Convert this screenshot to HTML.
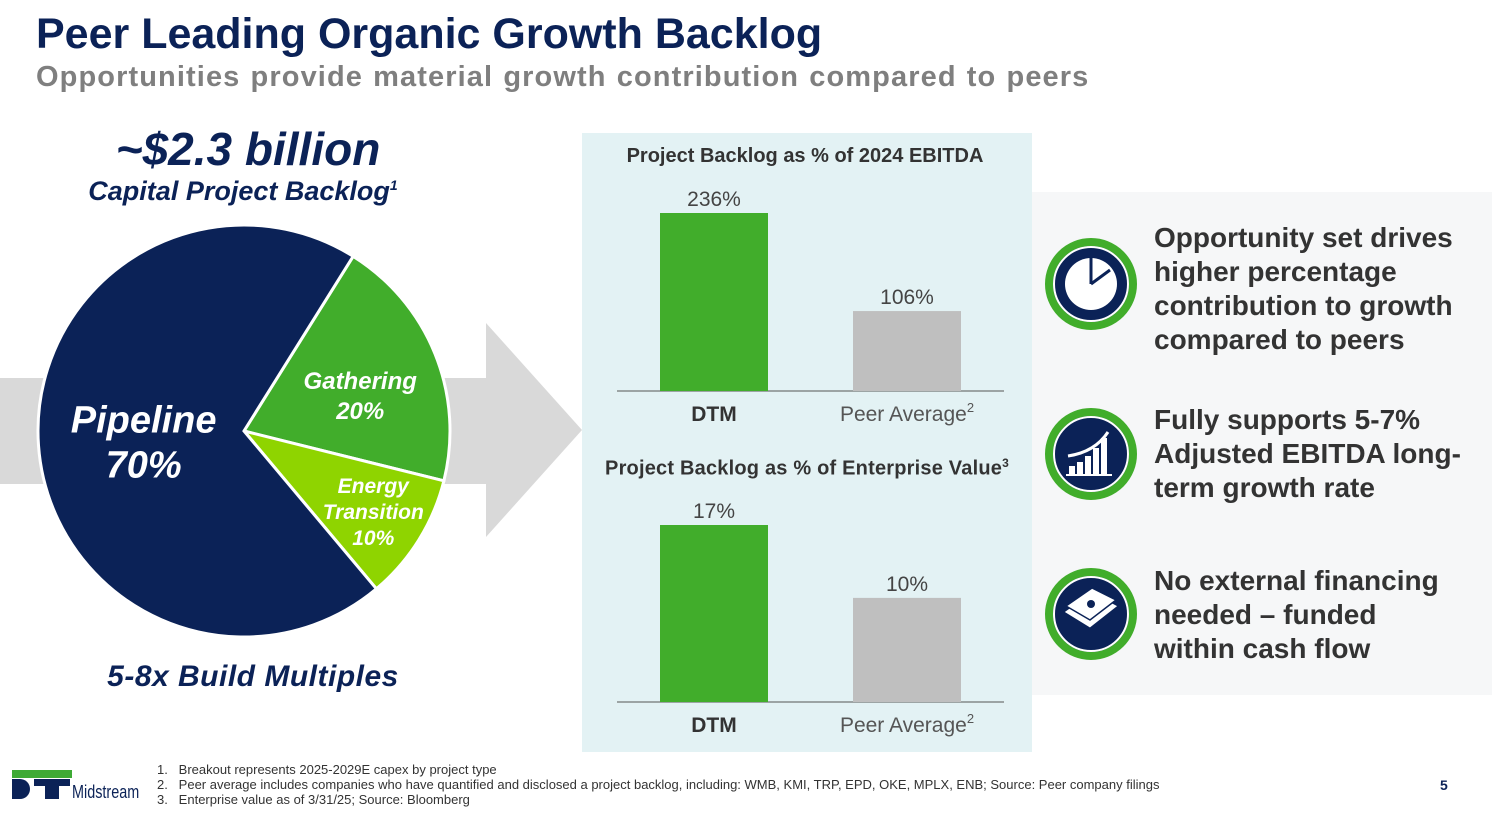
<!DOCTYPE html>
<html><head><meta charset="utf-8"><style>
body{margin:0;width:1492px;height:840px;background:#fff;font-family:"Liberation Sans",sans-serif;position:relative;overflow:hidden}
.a{position:absolute;margin:0}
</style></head><body>
<h1 class="a" style="left:36px;top:10px;font-size:43px;color:#0b2257;font-weight:bold">Peer Leading Organic Growth Backlog</h1>
<h2 class="a" style="left:36px;top:61px;font-size:29px;color:#7f7f7f;font-weight:bold;letter-spacing:1.1px;word-spacing:1px">Opportunities provide material growth contribution compared to peers</h2>
<div class="a" style="left:1032px;top:192px;width:460px;height:503px;background:#f6f7f8"></div>
<div class="a" style="left:582px;top:133px;width:450px;height:619px;background:#e3f2f4"></div>
<svg class="a" style="left:0;top:0" width="1492" height="840" id="svg">
<polygon points="0,378 486,378 486,323 582,430 486,537 486,484 0,484" fill="#d9d9d9"/>
</svg>
<div class="a" style="left:0;width:496px;top:122px;text-align:center;font-size:46px;font-weight:bold;font-style:italic;color:#0b2257">~$2.3 billion</div>
<div class="a" style="left:0;width:486px;top:176px;text-align:center;font-size:27px;font-weight:bold;font-style:italic;color:#0b2257">Capital Project Backlog<sup style="font-size:14px">1</sup></div>
<div class="a" style="left:0;width:506px;top:660px;text-align:center;font-size:30px;font-weight:bold;font-style:italic;color:#0b2257;letter-spacing:0.5px">5-8x Build Multiples</div>
<div class="a" style="left:582px;width:446px;top:145px;text-align:center;font-size:20px;font-weight:bold;color:#333">Project Backlog as % of 2024 EBITDA</div>
<div class="a" style="left:582px;width:450px;top:456px;text-align:center;font-size:20px;font-weight:bold;color:#333;letter-spacing:0.2px">Project Backlog as % of Enterprise Value<sup style="font-size:12px">3</sup></div>
<div class="a" style="left:1154px;top:221px;font-size:28px;font-weight:bold;color:#333;line-height:34px">Opportunity set drives<br>higher percentage<br>contribution to growth<br>compared to peers</div>
<div class="a" style="left:1154px;top:403px;font-size:28px;font-weight:bold;color:#333;line-height:34px">Fully supports 5-7%<br>Adjusted EBITDA long-<br>term growth rate</div>
<div class="a" style="left:1154px;top:564px;font-size:28px;font-weight:bold;color:#333;line-height:34px">No external financing<br>needed – funded<br>within cash flow</div>
<div class="a" style="left:157px;top:762px;font-size:13px;color:#333;line-height:15px">1.&nbsp;&nbsp;&nbsp;Breakout represents 2025-2029E capex by project type<br>2.&nbsp;&nbsp;&nbsp;Peer average includes companies who have quantified and disclosed a project backlog, including: WMB, KMI, TRP, EPD, OKE, MPLX, ENB; Source: Peer company filings<br>3.&nbsp;&nbsp;&nbsp;Enterprise value as of 3/31/25; Source: Bloomberg</div>
<div class="a" style="left:1440px;top:777px;font-size:14px;font-weight:bold;color:#0b2257">5</div>
<div class="a" style="left:12px;top:770px;width:125px;height:32px">
<div class="a" style="left:0;top:0;width:60px;height:8px;background:#3eaa35"></div>
<div class="a" style="left:0;top:9px;width:18px;height:20px;background:#0b2257;border-radius:0 10px 10px 0"></div>
<div class="a" style="left:22px;top:9px;width:36px;height:7px;background:#0b2257"></div>
<div class="a" style="left:33px;top:9px;width:14px;height:20px;background:#0b2257"></div>
<div class="a" style="left:60px;top:12px;font-size:18px;color:#0b2257;transform:scaleX(0.8);transform-origin:left">Midstream</div>
</div>
<script>
const pieLabels=["Pipeline","Gathering","Energy Transition"];
const pieValues=[70,20,10];
const pieColors=["#0b2257","#41ad2b","#8fd400"];
const barCats=["DTM","Peer Average"];
const ebitdaVals=[236,106];
const evVals=[17,10];
const barColors=["#41ad2b","#bfbfbf"];
const NS="http://www.w3.org/2000/svg";
const svg=document.getElementById('svg');
function mk(t,a){const e=document.createElementNS(NS,t);for(const k in a)e.setAttribute(k,a[k]);svg.appendChild(e);return e;}
const cx=244,cy=431,r=206;
const order=[1,2,0];
const total=pieValues.reduce((a,b)=>a+b,0);
let ang=32;
const pt=(d,rr)=>[cx+rr*Math.sin(d*Math.PI/180),cy-rr*Math.cos(d*Math.PI/180)];
const labelHtml=[["Pipeline","70%"],["Gathering","20%"],["Energy","Transition","10%"]];
const labelR=[0.49,0.59,0.74];
const labelOff=[-2,5,0];
const labelFs=[38,24,21];
const labelLh=[45,30,26];
order.forEach(i=>{
  const sweep=pieValues[i]/total*360;
  const [x1,y1]=pt(ang,r),[x2,y2]=pt(ang+sweep,r);
  const p=mk('path',{d:`M${cx},${cy} L${x1},${y1} A${r},${r} 0 ${sweep>180?1:0} 1 ${x2},${y2} Z`,fill:pieColors[i],stroke:'#fff','stroke-width':3});
  
  
  const mid=ang+sweep/2+labelOff[i];
  const [lx,ly]=pt(mid,r*labelR[i]);
  const fs=labelFs[i];
  const lines=labelHtml[i];
  const lh=labelLh[i];
  const t=mk('text',{x:lx,y:ly-(lines.length-1)*lh/2+fs*0.35,fill:'#fff','font-size':fs,'font-weight':'bold','font-style':'italic','text-anchor':'middle','font-family':'Liberation Sans'});
  
  
  lines.forEach((s,k)=>{const ts=document.createElementNS(NS,'tspan');ts.setAttribute('x',lx);ts.setAttribute('dy',k?lh:0);ts.textContent=s;t.appendChild(ts);});
  ang+=sweep;
});
function bars(vals,base,scale,name){
  const xs=[714,907];
  const ax=mk('line',{x1:617,x2:1004,y1:base,y2:base,stroke:'#555','stroke-width':1});
  
  
  vals.forEach((v,i)=>{
    const h=v*scale;
    const b=mk('rect',{x:xs[i]-54,y:base-h,width:108,height:h,fill:barColors[i]});
    
    
    const t=mk('text',{x:xs[i],y:base-h-7,'text-anchor':'middle','font-size':21,fill:'#444','font-family':'Liberation Sans'});
    t.textContent=v+'%';
    
    
    const c=mk('text',{x:xs[i],y:base+30,'text-anchor':'middle','font-size':21,fill:i?'#555':'#333','font-weight':i?'normal':'bold','font-family':'Liberation Sans'});
    c.textContent=barCats[i];
    if(i){const s=document.createElementNS(NS,'tspan');s.setAttribute('font-size',13);s.setAttribute('dy',-9);s.textContent='2';c.appendChild(s);}
    
    
  });
}
bars(ebitdaVals,391,178/236,'ebitda');
bars(evVals,702,177/17,'ev');
const iy=[284,454,614];
iy.forEach((y,k)=>{
  const g=mk('circle',{cx:1091,cy:y,r:42,fill:'#0b2257',stroke:'#41ad2b','stroke-width':8});
  
  
  mk('circle',{cx:1091,cy:y,r:37,fill:'none',stroke:'#fff','stroke-width':2});
});
mk('circle',{cx:1091,cy:284,r:26,fill:'#fff'});
mk('path',{d:'M1091,284 L1091,258 M1091,284 L1110,270',stroke:'#0b2257','stroke-width':3,fill:'none'});
[[1069,466,6,8],[1077,462,6,12],[1085,456,6,18],[1093,448,6,26],[1101,438,6,36]].forEach(a=>mk('rect',{x:a[0],y:a[1],width:a[2],height:a[3],fill:'#fff'}));
mk('line',{x1:1066,x2:1112,y1:475,y2:475,stroke:'#fff','stroke-width':2});
mk('path',{d:'M1068,456 Q1095,452 1108,432',stroke:'#fff','stroke-width':3,fill:'none'});
mk('polygon',{points:'1064,612 1092,592 1118,606 1090,628',fill:'#fff',stroke:'#0b2257','stroke-width':1});
mk('polygon',{points:'1066,606 1092,588 1116,600 1090,620',fill:'#fff',stroke:'#0b2257','stroke-width':1.5});
mk('circle',{cx:1091,cy:604,r:4,fill:'#0b2257'});
</script>
</body></html>
